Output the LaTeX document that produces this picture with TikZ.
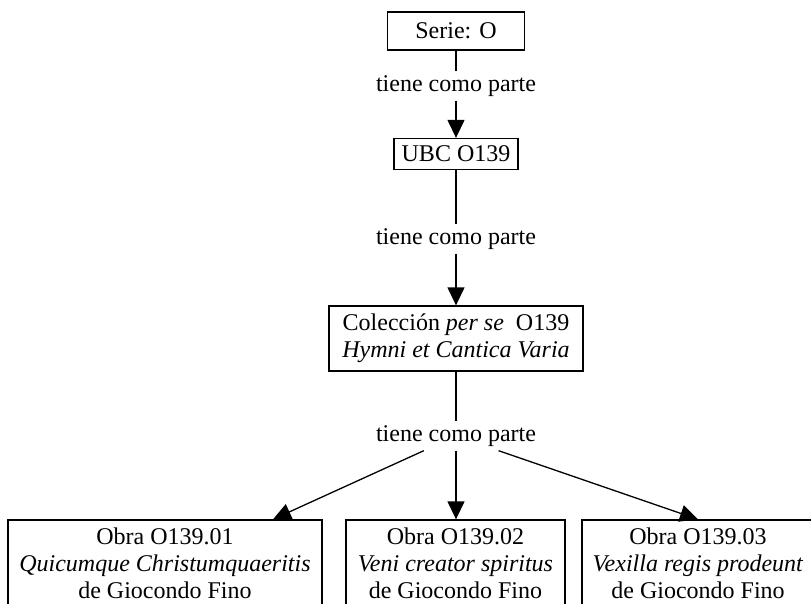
\documentclass[tikz,border=0pt]{standalone}
\usepackage{fontspec}
\setmainfont{Liberation Serif}
\usepackage{tikz}
\usetikzlibrary{arrows.meta,positioning,calc}

\tikzset{
  caja/.style={draw, line width=1.3pt, align=center, inner sep=0pt,
    font=\fontsize{24}{27}\selectfont},
  rel/.style={inner sep=4pt, font=\fontsize{24}{27}\selectfont},
  linea/.style={line width=1.3pt},
  flecha/.style={line width=1.3pt, -{Triangle[length=18pt,width=17pt]}}
}

\begin{document}
\begin{tikzpicture}[x=1pt,y=-1pt]
      \useasboundingbox (0,0) rectangle (811,604);
      \clip (0,0) rectangle (811,604);
      % Upper chain
      \node[caja, minimum width=137pt, minimum height=38pt] (serie) at (456,31) {Serie: O};
      \node[rel] (rel1) at (456,86) {tiene como parte};
      \node[caja, minimum width=124pt, minimum height=31pt] (ubc) at (456,154) {UBC O139};
      \node[rel] (rel2) at (456,239) {tiene como parte};
      \node[caja, minimum width=254pt, minimum height=65pt] (coleccion) at (456,338.5)
        {Colección \textit{per se}~~O139\\\textit{Hymni et Cantica Varia}};
      \node[rel] (rel3) at (456,436) {tiene como parte};
      % Works
      \node[caja, minimum width=314pt, minimum height=86pt] (obra1) at (165,563)
        {Obra O139.01\\\textit{Quicumque Christumquaeritis}\\de Giocondo Fino};
      \node[caja, minimum width=219pt, minimum height=86pt] (obra2) at (455.5,563)
        {Obra O139.02\\\textit{Veni creator spiritus}\\de Giocondo Fino};
      \node[caja, minimum width=232pt, minimum height=86pt] (obra3) at (698,563)
        {Obra O139.03\\\textit{Vexilla regis prodeunt}\\de Giocondo Fino};
      \coordinate (tip1) at ($(obra1.north)+(108,0)$);
      \coordinate (tip2) at (obra2.north -| rel3);
      \coordinate (tip3) at (obra3.north);
      % Connectors
      \draw[linea] (serie) -- (rel1);
      \draw[flecha] (rel1) -- (ubc);
      \draw[linea] (ubc) -- (rel2);
      \draw[flecha] (rel2) -- (coleccion);
      \draw[linea] (coleccion) -- (rel3);
      \foreach \t in {tip1,tip2,tip3}{
        \draw[flecha] (rel3) -- (\t);
      }
    \end{tikzpicture}
\end{document}
